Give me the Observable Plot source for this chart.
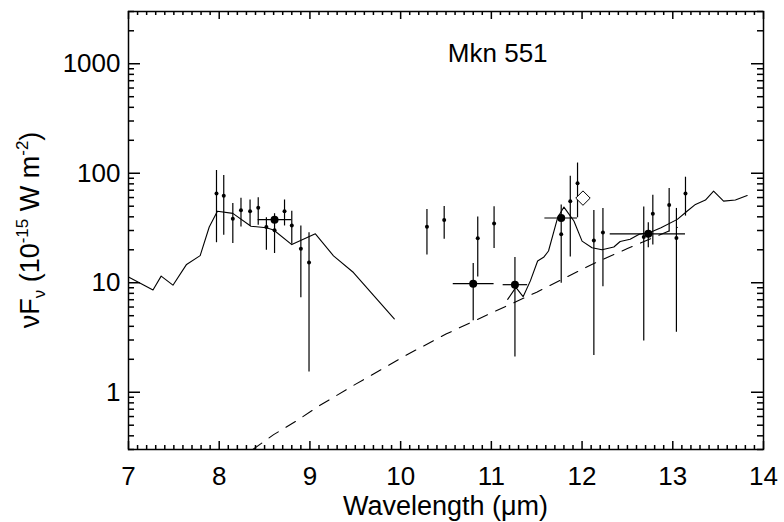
<!DOCTYPE html>
<html>
<head>
<meta charset="utf-8">
<script src="https://cdn.jsdelivr.net/npm/d3@7"></script>
<script src="https://cdn.jsdelivr.net/npm/@observablehq/plot@0.6"></script>
<style>
  html, body { margin: 0; padding: 0; background: #fff; }
</style>
</head>
<body>
<div id="chart"></div>
<script>
// ---- Data ----
// Small points with vertical error bars
const pointWl   = [7.97, 8.05, 8.15, 8.24, 8.34, 8.43, 8.52, 8.61, 8.72, 8.80, 8.90, 8.99,
                   10.29, 10.48, 10.85, 11.03, 11.77, 11.87, 11.95, 12.13, 12.23, 12.68, 12.78, 12.96, 13.04, 13.14];
const pointFlux = [65.4, 62.2, 38.4, 46, 45, 48.4, 32.3, 30.1, 45, 33.4, 20.4, 15.3,
                   32.5, 37.4, 25.5, 34.8, 27.7, 55.6, 81.1, 24.3, 28.7, 26.2, 42.7, 51.2, 25.6, 65.4];
const pointLo   = [23.2, 27.2, 22.8, 32.3, 33, 33.5, 19.8, 18.5, 33, 22.5, 7.3, 1.53,
                   17.9, 24.9, 11.3, 20.5, 9.9, 17.2, 39.2, 2.17, 9.2, 2.93, 22.1, 29.1, 3.53, 40.6];
const pointHi   = [106, 95.6, 53, 59, 57, 59.6, 39.3, 42.7, 57, 45, 33, 28.6,
                   46.7, 49.8, 39.8, 49.4, 51.2, 93.9, 124, 45.8, 47.7, 49.1, 63, 72.6, 47.7, 92];

// Large (band-averaged) points with horizontal and vertical error bars
const bandWl   = [8.61, 10.80, 11.26, 11.77, 12.73];
const bandFlux = [37.7, 9.8, 9.6, 39, 28];
const bandWlLo = [8.43, 10.58, 11.13, 11.59, 12.31];
const bandWlHi = [8.80, 11.03, 11.40, 11.95, 13.14];
const bandLo   = [37.7, 4.5, 2.1, 39, 20.9];
const bandHi   = [37.7, 15, 17, 39, 35.3];

// Open diamond
const diamondWl = [12.01];
const diamondFlux = [59.3];

// Model spectrum (two segments)
const modelAWl   = [7.0, 7.13, 7.27, 7.36, 7.49, 7.64, 7.79, 7.89, 7.98, 8.15, 8.35, 8.52, 8.6, 8.80, 9.06, 9.26, 9.48, 9.93];
const modelAFlux = [11.3, 9.9, 8.6, 11.5, 9.5, 14.7, 17.7, 32.3, 45, 43, 32.8, 31.8, 30.3, 22.3, 28, 17.6, 12.4, 4.68];
const modelBWl   = [11.18, 11.27, 11.35, 11.43, 11.51, 11.58, 11.63, 11.73, 11.80, 11.91, 12.0, 12.11, 12.22, 12.35,
                    12.42, 12.53, 12.63, 12.76, 12.87, 13.05, 13.16, 13.25, 13.36, 13.45, 13.56, 13.69, 13.82];
const modelBFlux = [7.05, 9.07, 7.46, 10.4, 15.8, 17.2, 19.5, 39.2, 49.1, 36.6, 24, 20.9, 20, 21.2,
                    23.8, 25, 27.7, 29.1, 31.8, 37.9, 45.2, 51.9, 56.9, 68.6, 55.6, 56.9, 62.7];

// Dashed continuum
const contWl   = [8.37, 8.6, 8.84, 9.1, 9.5, 10.07, 10.5, 11.0, 11.5, 12.13, 12.5, 13.05];
const contFlux = [0.30, 0.41, 0.54, 0.75, 1.18, 2.2, 3.4, 5.3, 8.2, 15, 20.5, 32];

// Axis ticks and texts
const xMajor = [7, 8, 9, 10, 11, 12, 13, 14];
const xMinor = d3.range(70, 141).filter(i => i % 10 !== 0).map(i => i / 10);
const yMajor = [1, 10, 100, 1000];
const yMinor = [0.1, 1, 10, 100, 1000]
  .flatMap(d => [2, 3, 4, 5, 6, 7, 8, 9].map(m => d * m))
  .filter(v => v >= 0.3 - 1e-9 && v <= 3000 + 1e-6);
const titleText = "Mkn 551";
const titleWl = 11.07, titleFlux = 1240;
const xTitle = "Wavelength (\u03bcm)";

// ---- Build tables ----
const points = pointWl.map((x, i) => ({x, y: pointFlux[i], lo: pointLo[i], hi: pointHi[i]}));
const bands = bandWl.map((x, i) => ({x, y: bandFlux[i], x1: bandWlLo[i], x2: bandWlHi[i], lo: bandLo[i], hi: bandHi[i]}));
const diamonds = diamondWl.map((x, i) => ({x, y: diamondFlux[i]}));
const modelA = modelAWl.map((x, i) => ({x, y: modelAFlux[i]}));
const modelB = modelBWl.map((x, i) => ({x, y: modelBFlux[i]}));
const cont = contWl.map((x, i) => ({x, y: contFlux[i]}));

const W = 784, H = 522;
const mL = 128, mR = 21, mT = 11, mB = 73;
const PW = W - mL - mR, PH = H - mT - mB;

const chart = Plot.plot({
  width: W, height: H,
  marginLeft: mL, marginRight: mR, marginTop: mT, marginBottom: mB,
  x: {domain: [7, 14]},
  y: {type: "log", domain: [0.3, 3000]},
  style: {fontFamily: "'Liberation Sans', Arial, Helvetica, sans-serif", fontSize: "26px", color: "black", background: "white"},
  marks: [
    Plot.frame({stroke: "black", strokeWidth: 1.5}),
    // inward ticks on all four sides
    Plot.ruleX(xMajor, {x: d => d, insetTop: PH - 8, stroke: "black", strokeWidth: 1.5}),
    Plot.ruleX(xMajor, {x: d => d, insetBottom: PH - 8, stroke: "black", strokeWidth: 1.5}),
    Plot.ruleX(xMinor, {x: d => d, insetTop: PH - 4, stroke: "black", strokeWidth: 1.5}),
    Plot.ruleX(xMinor, {x: d => d, insetBottom: PH - 4, stroke: "black", strokeWidth: 1.5}),
    Plot.ruleY(yMajor, {y: d => d, insetRight: PW - 12, stroke: "black", strokeWidth: 1.5}),
    Plot.ruleY(yMajor, {y: d => d, insetLeft: PW - 12, stroke: "black", strokeWidth: 1.5}),
    Plot.ruleY(yMinor, {y: d => d, insetRight: PW - 6, stroke: "black", strokeWidth: 1.5}),
    Plot.ruleY(yMinor, {y: d => d, insetLeft: PW - 6, stroke: "black", strokeWidth: 1.5}),
    Plot.axisX(xMajor, {tickSize: 0, tickPadding: 17, label: null, tickFormat: d => String(d)}),
    Plot.axisY(yMajor, {tickSize: 0, tickPadding: 8, label: null, tickFormat: d => String(d)}),
    // model spectrum
    Plot.line(modelA, {x: "x", y: "y", stroke: "black", strokeWidth: 1.1, clip: true}),
    Plot.line(modelB, {x: "x", y: "y", stroke: "black", strokeWidth: 1.1, clip: true}),
    // continuum
    Plot.line(cont, {x: "x", y: "y", stroke: "black", strokeWidth: 1.1, strokeDasharray: "11,9", clip: true}),
    // error bars
    Plot.ruleX(points, {x: "x", y1: "lo", y2: "hi", stroke: "black", strokeWidth: 1.2}),
    Plot.ruleX(bands, {x: "x", y1: "lo", y2: "hi", stroke: "black", strokeWidth: 1.2}),
    Plot.ruleY(bands, {y: "y", x1: "x1", x2: "x2", stroke: "black", strokeWidth: 1.2}),
    // dots
    Plot.dot(points, {x: "x", y: "y", r: 2, fill: "black", stroke: "none"}),
    Plot.dot(bands, {x: "x", y: "y", r: 4, fill: "black", stroke: "none"}),
    Plot.dot(diamonds, {x: "x", y: "y", r: 6.5, symbol: "diamond2", fill: "white", stroke: "black", strokeWidth: 1}),
    // title
    Plot.text([titleText], {x: () => titleWl, y: () => titleFlux, text: d => d, textAnchor: "middle", lineAnchor: "middle", fontSize: 26, fill: "black"})
  ]
});

const svg = d3.select(chart);
// x-axis title
svg.append("text")
  .attr("x", mL + PW / 2).attr("y", 515)
  .attr("text-anchor", "middle")
  .attr("fill", "black")
  .style("font-size", "27px")
  .text(xTitle);
// y-axis title with sub/superscripts
const yt = svg.append("text")
  .attr("transform", `translate(39,${mT + PH / 2}) rotate(-90)`)
  .attr("text-anchor", "middle")
  .attr("fill", "black")
  .style("font-size", "27px");
yt.append("tspan").text("\u03bdF");
yt.append("tspan").attr("dy", 6).style("font-size", "17px").text("\u03bd");
yt.append("tspan").attr("dy", -6).text(" (10");
yt.append("tspan").attr("dy", -11).style("font-size", "17px").text("-15");
yt.append("tspan").attr("dy", 11).text(" W m");
yt.append("tspan").attr("dy", -11).style("font-size", "17px").text("-2");
yt.append("tspan").attr("dy", 11).text(")");

document.getElementById("chart").appendChild(chart);
</script>
</body>
</html>
